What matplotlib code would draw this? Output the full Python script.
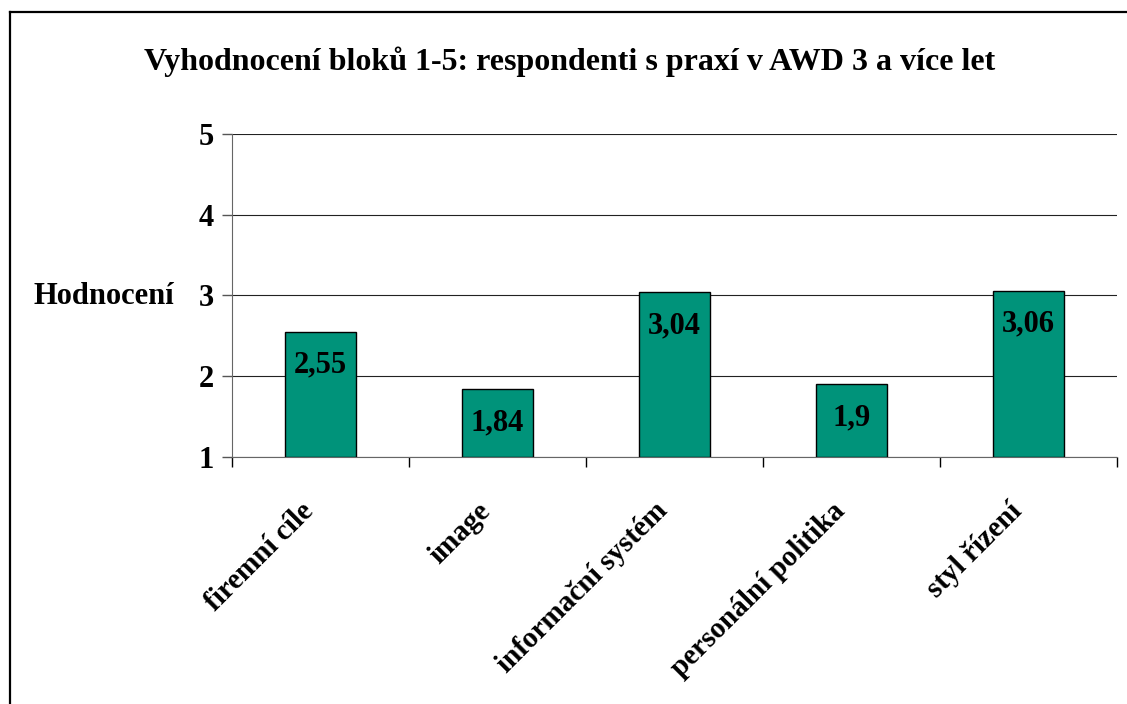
import matplotlib.pyplot as plt
from matplotlib.lines import Line2D
from matplotlib.transforms import ScaledTranslation

plt.rcParams['font.family'] = ['Liberation Serif', 'DejaVu Serif']
plt.rcParams['font.weight'] = 'bold'

categories = ['firemní cíle', 'image', 'informační systém', 'personální politika', 'styl řízení']
values = [2.55, 1.84, 3.04, 1.9, 3.06]
value_labels = ['2,55', '1,84', '3,04', '1,9', '3,06']
yticks = [1, 2, 3, 4, 5]

bar_color = '#00937a'

fig = plt.figure(figsize=(11.27, 7.04), dpi=100)
ax = fig.add_axes([0.2059, 0.3509, 0.9911 - 0.2059, 0.8097 - 0.3509])

x = list(range(len(categories)))
ax.bar(x, [v - 1 for v in values], bottom=1, width=0.4, color=bar_color,
       edgecolor='black', linewidth=1.0, zorder=3)

for xi, v, lab in zip(x, values, value_labels):
    ax.annotate(lab, (xi, v), xytext=(0, -41), textcoords='offset pixels',
                ha='center', va='baseline', fontsize=22, fontweight='bold',
                zorder=4)

ax.set_xlim(-0.5, len(categories) - 0.5)
ax.set_ylim(1, 5)
ax.set_yticks(yticks)
ax.set_yticklabels([str(t) for t in yticks], fontsize=22, fontweight='bold')
ax.yaxis.grid(True, color='#222222', linewidth=0.8, zorder=0)
ax.set_axisbelow(True)

# category ticks between bars, labels at bar centres
ax.set_xticks([i - 0.5 for i in range(len(categories) + 1)])
ax.set_xticklabels([])
ax.set_xticks(x, minor=True)
ax.set_xticklabels(categories, minor=True, rotation=45, ha='right', va='center',
                   rotation_mode='anchor', fontsize=21, fontweight='bold')
ax.tick_params(axis='x', which='minor', length=0, pad=0)
ax.tick_params(axis='x', which='major', length=7, width=1, color='black')
ax.tick_params(axis='y', length=7, width=1, color='#555555', pad=6)

shift = ScaledTranslation(-11 / 100, -50 / 100, fig.dpi_scale_trans)
for t in ax.get_xticklabels(minor=True):
    t.set_transform(t.get_transform() + shift)

for s in ['top', 'right']:
    ax.spines[s].set_visible(False)
ax.spines['left'].set_color('#666666')
ax.spines['bottom'].set_color('#666666')

fig.text(0.505, 0.912, 'Vyhodnocení bloků 1-5: respondenti s praxí v AWD 3 a více let',
         ha='center', va='center', fontsize=23, fontweight='bold')
fig.text(0.0295, 0.5795, 'Hodnocení', ha='left', va='center', fontsize=22,
         fontweight='bold')

# outer chart frame (left and top edges visible)
fig.add_artist(Line2D([10 / 1127, 10 / 1127], [0, 1 - 11.5 / 704],
                      transform=fig.transFigure, color='black', linewidth=1.6))
fig.add_artist(Line2D([10 / 1127, 1], [1 - 11.5 / 704, 1 - 11.5 / 704],
                      transform=fig.transFigure, color='black', linewidth=1.6))

fig.savefig('out.png', dpi=100)
